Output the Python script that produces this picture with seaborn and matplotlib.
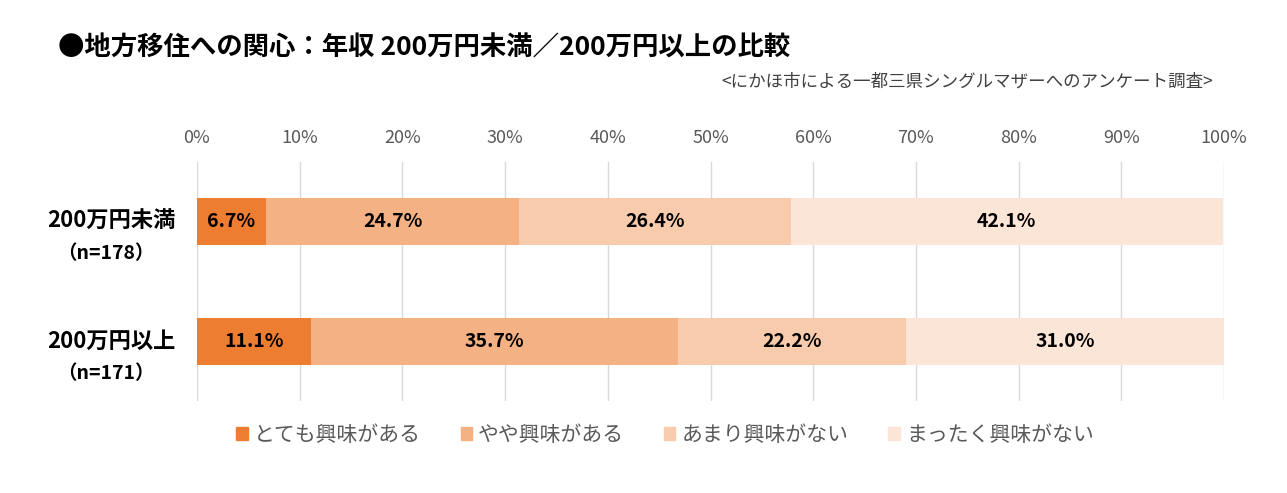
import pandas as pd
import matplotlib.pyplot as plt
import matplotlib.patches as mpatches
from matplotlib import transforms
import seaborn as sns

# データ
groups = ['200万円未満', '200万円以上']
group_n = ['（n=178）', '（n=171）']
answers = ['とても興味がある', 'やや興味がある', 'あまり興味がない', 'まったく興味がない']
values = {
    'とても興味がある': [6.7, 11.1],
    'やや興味がある': [24.7, 35.7],
    'あまり興味がない': [26.4, 22.2],
    'まったく興味がない': [42.1, 31.0],
}
x_ticks = [0, 10, 20, 30, 40, 50, 60, 70, 80, 90, 100]
title = '●地方移住への関心：年収 200万円未満／200万円以上の比較'
subtitle = '<にかほ市による一都三県シングルマザーへのアンケート調査>'

colors = ['#ED7D31', '#F4B183', '#F8CBAD', '#FBE5D6']

sns.set_theme(style='white')
plt.rcParams['font.family'] = ['Noto Sans CJK JP', 'DejaVu Sans']

df = pd.DataFrame(values, index=groups)
cum = df.cumsum(axis=1)

fig = plt.figure(figsize=(12.87, 4.93), dpi=100)
ax = fig.add_axes([197 / 1287, 1 - 401 / 493, 1027 / 1287, 239 / 493])

# 積み上げ棒（累積値を大きい順に重ねる）
for i in reversed(range(len(answers))):
    col = answers[i]
    sns.barplot(x=cum[col].values, y=groups, color=colors[i], orient='h',
                width=0.39, saturation=1, linewidth=0, ax=ax, zorder=2)

# データラベル
for j, g in enumerate(groups):
    left = 0
    for col in answers:
        v = df.loc[g, col]
        ax.text(left + v / 2, j, f'{v:.1f}%', ha='center', va='center',
                fontsize=14, fontweight='bold', color='black', zorder=3)
        left += v

ax.set_xlim(0, 100)
ax.set_ylim(1.5, -0.5)
ax.set_xticks(x_ticks)
ax.set_xticklabels([f'{t}%' for t in x_ticks], fontsize=13, color='#595959')
ax.xaxis.tick_top()
ax.tick_params(axis='x', length=0, pad=11)
ax.set_yticks([])
ax.set_xlabel('')
ax.set_ylabel('')
ax.grid(axis='x', color='#D9D9D9', linewidth=1, zorder=0)
ax.set_axisbelow(True)
for s in ax.spines.values():
    s.set_visible(False)

# 項目ラベル
trans = transforms.blended_transform_factory(fig.transFigure, ax.transData)
for j, g in enumerate(groups):
    ax.text(111 / 1287, j, g, transform=trans, ha='center', va='center',
            fontsize=16, fontweight='bold', color='black')
    ax.text(106 / 1287, j + 0.27, group_n[j], transform=trans, ha='center', va='center',
            fontsize=14, fontweight='bold', color='black')

# タイトル
fig.text(58 / 1287, 1 - 48 / 493, title, ha='left', va='center',
         fontsize=19, fontweight='bold', color='black')
fig.text(1213 / 1287, 1 - 82 / 493, subtitle, ha='right', va='center',
         fontsize=12.6, color='#404040')

# 凡例
handles = [mpatches.Patch(color=c, label=a) for a, c in zip(answers, colors)]
fig.legend(handles=handles, loc='center', bbox_to_anchor=(665 / 1287, 1 - 435 / 493),
           ncol=4, frameon=False, fontsize=15, handlelength=0.55, handleheight=0.55,
           handletextpad=0.3, columnspacing=1.9, labelcolor='#595959')

fig.savefig('out.png', dpi=100)
